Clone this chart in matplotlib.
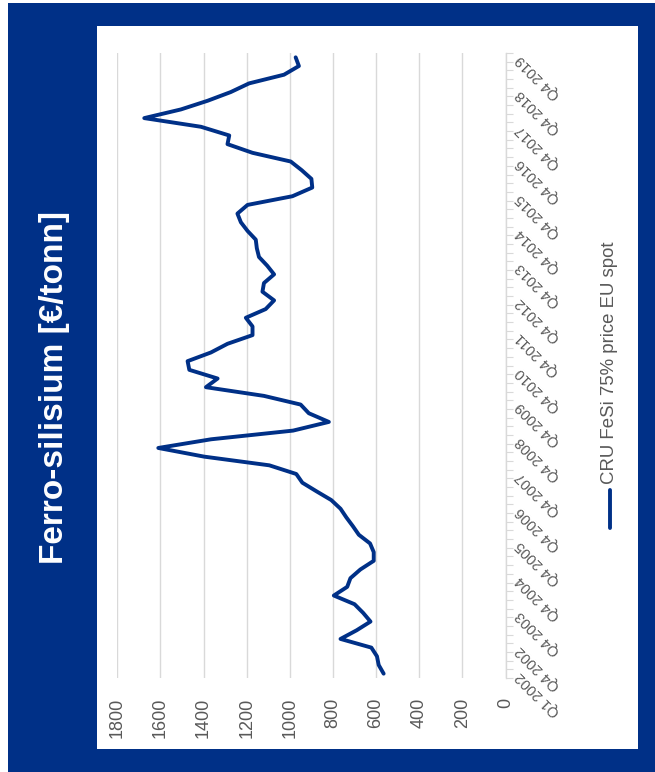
import numpy as np
import matplotlib
matplotlib.use('Agg')
from matplotlib import pyplot as plt
from matplotlib.patches import Rectangle
from matplotlib.lines import Line2D

plt.rcParams['font.family'] = ['Liberation Sans', 'DejaVu Sans']

# quarterly spot price, Q1 2002 .. Q4 2019
price = [565, 588, 596, 622, 765, 690, 626, 660, 700, 796,
         734, 719, 673, 611, 611, 628, 680, 708, 738, 765,
         808, 876, 942, 970, 1095, 1397, 1610, 1365, 985, 819,
         912, 950, 1120, 1389, 1335, 1466, 1474, 1366, 1289, 1173,
         1173, 1204, 1112, 1073, 1127, 1120, 1073, 1105, 1143, 1153,
         1158, 1196, 1227, 1243, 1196, 988, 896, 900, 945, 996,
         1173, 1289, 1281, 1412, 1675, 1505, 1381, 1274, 1189, 1027,
         958, 973]

quarter_labels = ['Q1 2002', 'Q4 2002', 'Q4 2003', 'Q4 2004', 'Q4 2005',
                  'Q4 2006', 'Q4 2007', 'Q4 2008', 'Q4 2009', 'Q4 2010',
                  'Q4 2011', 'Q4 2012', 'Q4 2013', 'Q4 2014', 'Q4 2015',
                  'Q4 2016', 'Q4 2017', 'Q4 2018', 'Q4 2019']
quarter_pos = [0, 3, 7, 11, 15, 19, 23, 27, 31, 35, 39, 43, 47, 51, 55,
               59, 63, 67, 71]

value_ticks = [0, 200, 400, 600, 800, 1000, 1200, 1400, 1600, 1800]

title = 'Ferro-silisium [€/tonn]'
series_name = 'CRU FeSi 75% price EU spot'

navy = '#003087'
grey_text = '#595959'
grid_col = '#d9d9d9'

W, H = 655, 772
fig = plt.figure(figsize=(W / 100, H / 100), dpi=100)
fig.patch.set_facecolor('white')

# blue frame and white chart panel, kept behind the axes
fig.add_artist(Rectangle((8 / W, 0), (W - 8) / W, (H - 3) / H,
                         transform=fig.transFigure, color=navy, lw=0,
                         zorder=-10))
fig.add_artist(Rectangle((97 / W, 1 - 749 / H), (638 - 97) / W, (749 - 26) / H,
                         transform=fig.transFigure, color='white', lw=0,
                         zorder=-9))

# chart is laid on its side: values run right-to-left, quarters bottom-to-top
ax = fig.add_axes([117.3 / W, 1 - 678 / H, (505.5 - 117.3) / W, (678 - 53) / H])
ax.set_facecolor('none')
idx = np.arange(len(price))
ax.plot(price, idx, color=navy, lw=2.8, solid_joinstyle='round',
        solid_capstyle='round', zorder=3)

ax.set_xlim(1800, 0)
ax.set_ylim(-0.5, len(price) - 0.5)
ax.set_xticks(value_ticks)
ax.set_xticklabels([str(v) for v in value_ticks])
ax.grid(axis='x', color=grid_col, lw=1)
ax.set_axisbelow(True)

for s in ['left', 'top', 'bottom']:
    ax.spines[s].set_visible(False)
ax.spines['right'].set_color(grid_col)
ax.spines['right'].set_linewidth(1)

ax.tick_params(axis='x', length=0, pad=14, labelsize=13,
               labelcolor=grey_text, labelrotation=90)

ax.yaxis.tick_right()
ax.set_yticks(quarter_pos)
ax.set_yticklabels(quarter_labels)
ax.set_yticks(np.arange(-0.5, len(price), 1), minor=True)
ax.tick_params(axis='y', which='major', length=0, pad=9, labelsize=10.5,
               labelcolor=grey_text)
ax.tick_params(axis='y', which='minor', length=5, width=0.8, color=grid_col,
               direction='out')
for lbl in ax.get_yticklabels():
    lbl.set_rotation(135)
    lbl.set_rotation_mode('anchor')
    lbl.set_ha('right')
    lbl.set_va('center')

fig.text(55 / W, 1 - 388 / H, title, rotation=90, color='white',
         fontsize=24, fontweight='bold', ha='center', va='center')

# legend entry
fig.add_artist(Line2D([610 / W, 610 / W], [1 - 528 / H, 1 - 490 / H],
                      transform=fig.transFigure, color=navy, lw=2.8,
                      solid_capstyle='round'))
fig.text(610 / W, 1 - 484 / H, series_name, rotation=90, ha='center',
         va='bottom', fontsize=13.4, color=grey_text)

fig.savefig('out.png', dpi=100)
